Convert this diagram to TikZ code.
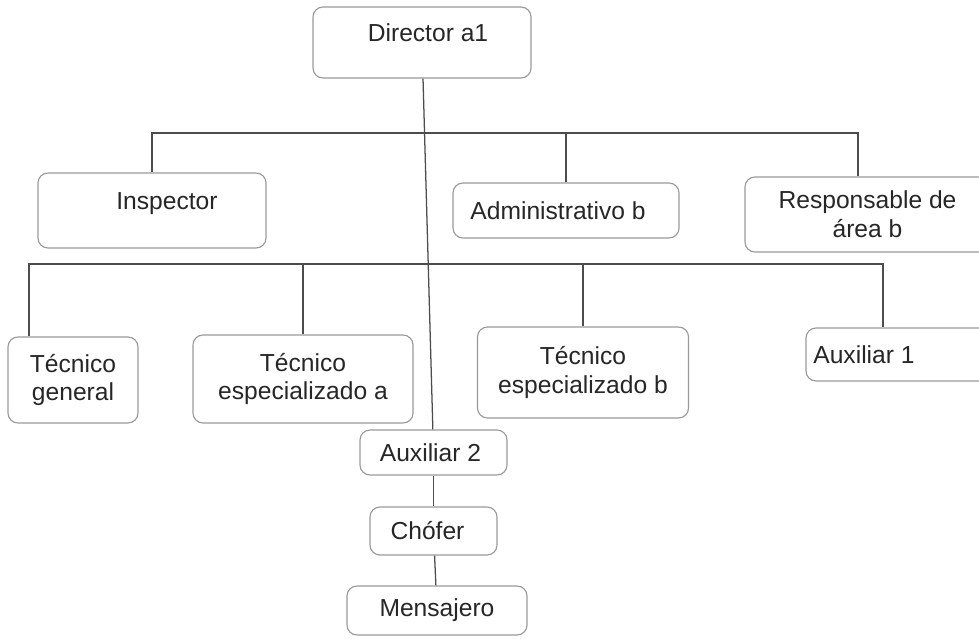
\documentclass[tikz,border=0pt]{standalone}
\usepackage{fontspec}
\setmainfont{Liberation Sans}

\tikzset{
	box/.style={draw=black!40,line width=0.8pt,rounded corners=0.25cm,inner sep=0pt,align=center,text=black!85,font=\fontsize{17.5}{20.5}\selectfont},
	boxsize/.style 2 args={minimum width=#1,minimum height=#2},
	raised/.style={text depth=14pt},
	link/.style={draw=black!70,line width=0.9pt}
}

\begin{document}
\begin{tikzpicture}[x=0.025cm,y=-0.025cm]
	\clip (0,0) rectangle (979,638);
	\node[box,boxsize={5.45cm}{1.775cm},raised] (dir) at (422,42.5) {\hspace*{0.3cm}Director a1};
	\node[box,boxsize={5.7cm}{1.875cm},raised] (insp) at (152,210.5) {\hspace*{0.75cm}Inspector};
	\node[box,boxsize={5.65cm}{1.375cm}] (admin) at (566,210.5) {Administrativo b\hspace*{0.4cm}};
	\node[box,boxsize={6.125cm}{1.875cm}] (resp) at (867.5,214.5) {Responsable de\\área b};
	\node[box,boxsize={3.25cm}{2.15cm}] (tg) at (73,380) {Técnico\\general};
	\node[box,boxsize={5.5cm}{2.2cm}] (tea) at (303,379) {Técnico\\especializado a};
	\node[box,boxsize={5.275cm}{2.275cm}] (teb) at (583,372.5) {Técnico\\especializado b};
	\node[box,boxsize={4.6cm}{1.325cm}] (aux1) at (898,354.5) {Auxiliar 1\hspace*{1.7cm}};
	\node[box,boxsize={3.675cm}{1.125cm}] (aux2) at (433.5,452.5) {Auxiliar 2\hspace*{0.15cm}};
	\node[box,boxsize={3.175cm}{1.2cm}] (chof) at (433.5,531) {Chófer\hspace*{0.3cm}};
	\node[box,boxsize={4.5cm}{1.225cm}] (mens) at (437,610.5) {Mensajero};
	\coordinate (h1w) at (151,133);
	\coordinate (h1e) at (858,133);
	\coordinate (h2w) at (29,264);
	\coordinate (h2e) at (883,264);
	\draw[link] (dir) -- (aux2);
	\draw[link] (insp.north) -- (insp.north |- h1w) -- (h1e) -- (h1e |- resp.north);
	\draw[link] (admin.north) -- (admin.north |- h1w);
	\draw[link] (h2w |- tg.north) -- (h2w) -- (h2e) -- (h2e |- aux1.north);
	\draw[link] (tea.north) -- (tea.north |- h2w);
	\draw[link] (teb.north) -- (teb.north |- h2w);
	\draw[link] (aux2) -- (chof);
	\draw[link] (chof) -- (mens);
\end{tikzpicture}
\end{document}
